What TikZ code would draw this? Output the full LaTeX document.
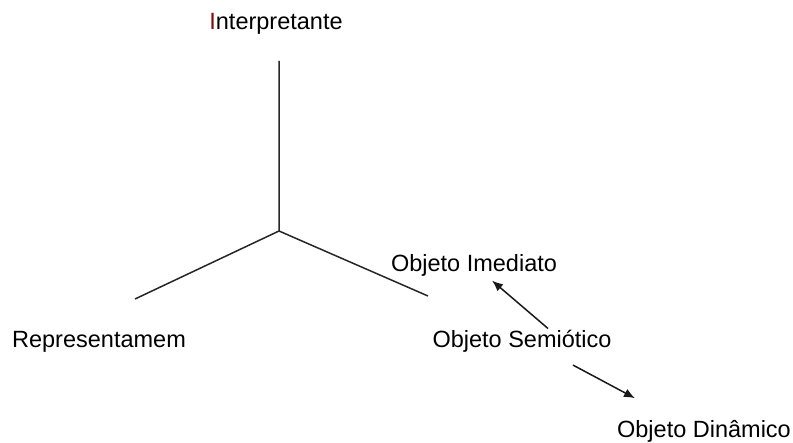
\documentclass[tikz,border=0pt]{standalone}
\usepackage{fontspec}
\setmainfont{Liberation Sans}
\usetikzlibrary{arrows.meta}
\definecolor{letravermelha}{RGB}{130,10,10}
\tikzset{
	rotulo/.style={anchor=base, inner sep=0pt, font=\fontsize{23.5}{28}\selectfont},
	haste/.style={black!85, line width=1.5pt},
	seta/.style={black!90, line width=1.5pt, -{Latex[length=11pt,width=9pt]}}
}
\begin{document}
\begin{tikzpicture}[x=1pt, y=-1pt]
		\useasboundingbox (0, 0) rectangle (793, 443);

		\node[rotulo] (interp)	at (276, 30)	{{\color{letravermelha}I}nterpretante};
		\node[rotulo] (repr)	at (99, 348)	{Representamem};
		\node[rotulo] (imed)	at (474, 271.5)	{Objeto Imediato};
		\node[rotulo] (semio)	at (522, 348)	{Objeto Semiótico};
		\node[rotulo] (dinam)	at (704, 437.5)	{Objeto Dinâmico};

		\coordinate (centro)	at (279, 231);
		\coordinate (topo)		at (279, 61);
		\coordinate (esq)		at (135, 299);
		\coordinate (dir)		at (428, 296);

		\draw[haste]	(topo) -- (centro) -- (esq)
						(centro) -- (dir);

		\draw[seta]	([xshift=26pt, yshift=2pt]semio.north) -- ([xshift=18pt, yshift=-4pt]imed.south);
		\draw[seta]	([xshift=51pt, yshift=-12pt]semio.south) -- ([xshift=-69pt, yshift=22pt]dinam.north);
	\end{tikzpicture}
\end{document}
